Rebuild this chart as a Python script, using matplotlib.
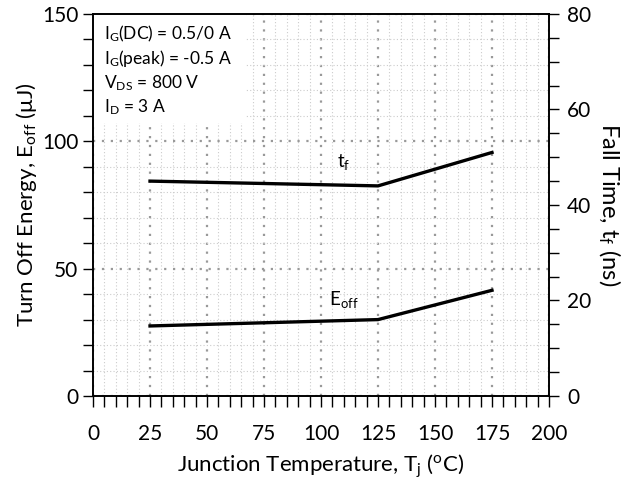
import numpy as np
import matplotlib
matplotlib.use("Agg")
import matplotlib.pyplot as plt
from matplotlib.patches import Rectangle

plt.rcParams['font.family'] = ['Lato', 'DejaVu Sans']
plt.rcParams['mathtext.fontset'] = 'custom'
plt.rcParams['mathtext.rm'] = 'Lato'
plt.rcParams['mathtext.it'] = 'Lato'

# junction temperature (C)
temps = [25, 125, 175]
# turn off energy (uJ), left axis
e_off = [27.5, 30.0, 41.5]
# fall time (ns), right axis
t_fall = [45.0, 44.0, 51.0]

conditions = [r'I$_\mathregular{G}$(DC) = 0.5/0 A',
              r'I$_\mathregular{G}$(peak) = -0.5 A',
              r'V$_\mathregular{DS}$ = 800 V',
              r'I$_\mathregular{D}$ = 3 A']

fig, ax = plt.subplots(figsize=(6.26, 4.79), dpi=100)
fig.subplots_adjust(left=0.1486, right=0.877, top=0.9708, bottom=0.1733)
ax2 = ax.twinx()

ax.set_xlim(0, 200)
ax.set_ylim(0, 150)
ax2.set_ylim(0, 80)

ax.set_xticks(np.arange(0, 201, 25))
ax.set_xticks(np.arange(0, 201, 5), minor=True)
ax.set_yticks([0, 50, 100, 150])
ax.set_yticks(np.arange(0, 151, 10), minor=True)
ax2.set_yticks([0, 20, 40, 60, 80])
ax2.set_yticks(np.arange(0, 81, 5), minor=True)

ax.set_axisbelow(True)
ax.grid(which='minor', color='#cccccc', linestyle=(0, (1, 2)), linewidth=0.8)
ax.grid(which='major', color='#999999', linestyle=(0, (1, 3)), linewidth=1.6)

for a in (ax, ax2):
    a.tick_params(which='both', direction='out', length=7, width=1.0, labelsize=15)
    for s in a.spines.values():
        s.set_linewidth(1.2)
ax.tick_params(axis='x', which='both', length=8, pad=12)
ax2.tick_params(axis='y', pad=6)

# white box behind the test conditions
ax.add_patch(Rectangle((0, 107), 67, 43, facecolor='white', edgecolor='none', zorder=1))

ax.plot(temps, e_off, color='black', linewidth=2.4, zorder=3)
ax2.plot(temps, t_fall, color='black', linewidth=2.4, zorder=3)

for i, txt in enumerate(conditions):
    ax.text(0.025, 0.948 - i * 0.064, txt, transform=ax.transAxes, fontsize=12.5, va='center', ha='left')

ax.text(110, 92, r't$_\mathregular{f}$', fontsize=13.5, ha='center', va='center')
ax.text(110, 38, r'E$_\mathregular{off}$', fontsize=13.5, ha='center', va='center')

ax.set_xlabel(r'Junction Temperature, T$_\mathregular{j}$ ($^\mathregular{o}$C)', fontsize=16, labelpad=6)
ax.set_ylabel(r'Turn Off Energy, E$_\mathregular{off}$ (μJ)', fontsize=16, labelpad=2)
ax2.set_ylabel(r'Fall Time, t$_\mathregular{f}$ (ns)', fontsize=17, rotation=270, labelpad=22)

fig.savefig('out.png', dpi=100)
